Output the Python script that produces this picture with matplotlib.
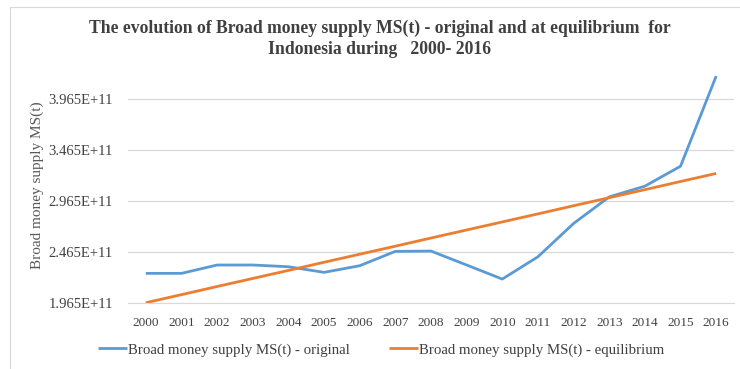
import matplotlib
matplotlib.use("Agg")
import matplotlib.pyplot as plt
from matplotlib.patches import Rectangle

years = ["2000", "2001", "2002", "2003", "2004", "2005", "2006", "2007", "2008",
         "2009", "2010", "2011", "2012", "2013", "2014", "2015", "2016"]
original = [2.253, 2.253, 2.335, 2.335, 2.318, 2.263, 2.328, 2.469, 2.472,
            2.335, 2.197, 2.416, 2.743, 3.004, 3.109, 3.305, 4.19]
equilibrium = [1.965, 2.044, 2.124, 2.203, 2.282, 2.362, 2.441, 2.520, 2.600,
               2.679, 2.758, 2.837, 2.917, 2.996, 3.075, 3.155, 3.234]
original = [v * 1e11 for v in original]
equilibrium = [v * 1e11 for v in equilibrium]
yticks = [1.965e11, 2.465e11, 2.965e11, 3.465e11, 3.965e11]
ytick_labels = ["1.965E+11", "2.465E+11", "2.965E+11", "3.465E+11", "3.965E+11"]

plt.rcParams['font.family'] = ['Liberation Serif', 'DejaVu Serif']

W, H = 740, 369
fig = plt.figure(figsize=(W / 100, H / 100), dpi=100)
ax = fig.add_axes([128 / W, 1 - 302.7 / H, (734 - 128) / W, (302.7 - 72) / H])

x = list(range(len(years)))
l1, = ax.plot(x, original, color="#5B9BD5", lw=2.0, solid_capstyle="butt",
              label="Broad money supply MS(t) - original")
l2, = ax.plot(x, equilibrium, color="#ED7D31", lw=2.0, solid_capstyle="butt",
              label="Broad money supply MS(t) - equilibrium")

ax.set_xlim(-0.5, len(years) - 0.5)
ax.set_ylim(1.965e11, 4.23e11)
ax.set_xticks(x)
ax.set_xticklabels(years, fontsize=9.5, color="#404040")
ax.set_yticks(yticks)
ax.set_yticklabels(ytick_labels, fontsize=10.5, color="#404040")
ax.tick_params(length=0)
ax.tick_params(axis='y', pad=11)
ax.tick_params(axis='x', pad=10)
ax.grid(axis='y', color="#D9D9D9", lw=0.9)
ax.set_axisbelow(True)
for s in ax.spines.values():
    s.set_visible(False)
ax.spines['bottom'].set_visible(True)
ax.spines['bottom'].set_color("#D9D9D9")

fig.text(37 / W, 1 - 185 / H, "Broad money supply MS(t)", rotation=90,
         ha="center", va="center", fontsize=11, color="#595959")

fig.text(380 / W, 1 - 28 / H,
         "The evolution of Broad money supply MS(t) - original and at equilibrium  for",
         ha="center", va="center", fontsize=12.7, fontweight="bold", color="#404040")
fig.text(380 / W, 1 - 49 / H, "Indonesia during   2000- 2016",
         ha="center", va="center", fontsize=12.7, fontweight="bold", color="#404040")

leg = fig.legend(handles=[l1, l2], loc="center", bbox_to_anchor=(381 / W, 1 - 350 / H),
                 ncol=2, frameon=False, fontsize=10.7, handlelength=2.0,
                 handletextpad=0.05, columnspacing=2.6)
for t in leg.get_texts():
    t.set_color("#404040")

fig.patches.append(Rectangle((10 / W, -0.01), 1.02, (369 - 7) / H + 0.01,
                             transform=fig.transFigure, fill=False,
                             edgecolor="#D9D9D9", lw=0.8))

fig.savefig("out.png", dpi=100)
